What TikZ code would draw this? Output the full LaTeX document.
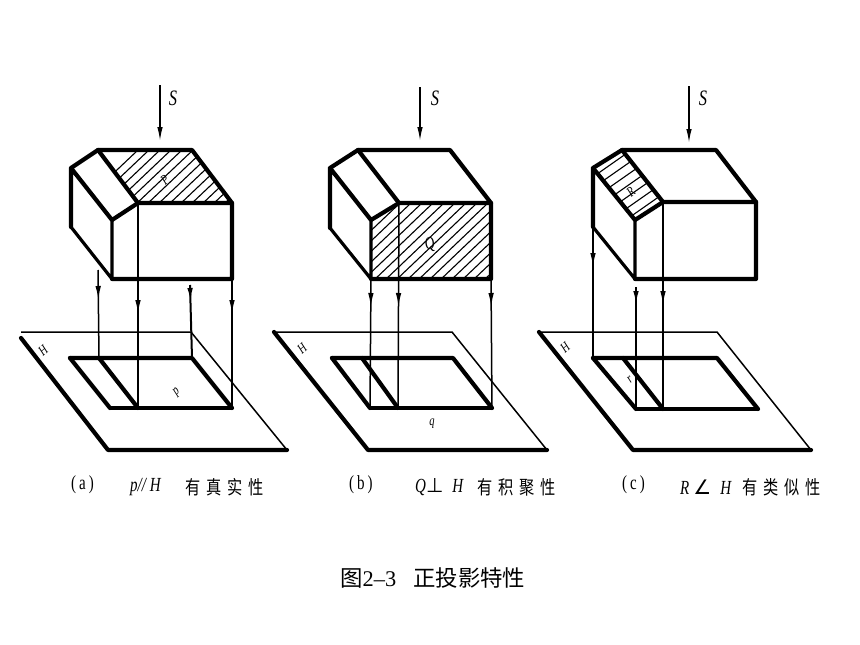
\documentclass[tikz,border=0pt]{standalone}
\usepackage{fontspec}
\setmainfont{Liberation Serif}
\newfontfamily\cjk{Noto Sans CJK SC}
\newfontfamily\cjktall[FakeStretch=0.8]{Noto Sans CJK SC}
\newfontfamily\tall[FakeStretch=0.75]{Liberation Serif}
\newfontfamily\symb{DejaVu Sans}
\usetikzlibrary{arrows.meta,decorations.markings}
\tikzset{ %
  ,>={Latex[length=14pt,width=5.5pt]}
  ,heavy/.style={line width=4.2pt, line join=round, line cap=round}
  ,medium/.style={line width=3.2pt, line join=round, line cap=round}
  ,thin line/.style={line width=1.5pt}
  ,hatch/.style={line width=1.1pt}
  ,proj/.style={line width=1.5pt, postaction={decorate}, decoration={markings, mark=at position #1 with {\arrow{>}}}}
  ,tag/.style={inner sep=0, font=\tall\itshape\fontsize{14}{14}\selectfont, rotate=40}
  ,letter/.style={inner sep=0, font=\tall\itshape\fontsize{22}{22}\selectfont}
  ,caption/.style={inner sep=0, anchor=west, font=\tall\fontsize{20}{20}\selectfont}
  ,law/.style={caption, font=\tall\itshape\fontsize{20}{20}\selectfont}
  ,cjktxt/.style={caption, font=\cjktall\fontsize{19}{19}\selectfont}
}
\begin{document}
\begin{tikzpicture}[x=1pt, y=-1pt]
    \useasboundingbox (0,0) rectangle (860,645);
    % block and plane of (a)
    \coordinate (a-back) at (98,150);
    \coordinate (a-top) at (192,150);
    \coordinate (a-right) at (232,203);
    \coordinate (a-mid) at (138,203);
    \coordinate (a-left) at (71,168);
    \coordinate (a-low) at (71,227);
    \coordinate (a-foot) at (112,279);
    \coordinate (a-base) at (232,279);
    \coordinate (a-inner) at (112,220);
    \coordinate (a-s1) at (160,85);
    \coordinate (a-s2) at (160,141);
    \coordinate (a-tl) at (21,332);
    \coordinate (a-tl2) at (21,338);
    \coordinate (a-tr) at (191,332);
    \coordinate (a-br) at (287,450);
    \coordinate (a-bl) at (108,450);
    \coordinate (a-i1) at (70,358);
    \coordinate (a-i2) at (192,358);
    \coordinate (a-i3) at (232,408);
    \coordinate (a-i4) at (110,408);
    \coordinate (a-j1) at (99,358);
    \coordinate (a-j2) at (138,408);
    % block and plane of (b)
    \coordinate (b-back) at (358,150);
    \coordinate (b-top) at (450,150);
    \coordinate (b-right) at (491,203);
    \coordinate (b-mid) at (399,203);
    \coordinate (b-left) at (330,168);
    \coordinate (b-low) at (330,228);
    \coordinate (b-foot) at (371,279);
    \coordinate (b-base) at (491,279);
    \coordinate (b-inner) at (371,220);
    \coordinate (b-s1) at (420,87);
    \coordinate (b-s2) at (420,141);
    \coordinate (b-tl) at (274,332);
    \coordinate (b-tl2) at (274,332);
    \coordinate (b-tr) at (452,332);
    \coordinate (b-br) at (547,450);
    \coordinate (b-bl) at (368,450);
    \coordinate (b-i1) at (332,358);
    \coordinate (b-i2) at (453,358);
    \coordinate (b-i3) at (492,408);
    \coordinate (b-i4) at (370,408);
    \coordinate (b-j1) at (362,358);
    \coordinate (b-j2) at (398,408);
    % block and plane of (c)
    \coordinate (c-back) at (622,150);
    \coordinate (c-top) at (716,150);
    \coordinate (c-right) at (756,202);
    \coordinate (c-mid) at (663,202);
    \coordinate (c-left) at (593,168);
    \coordinate (c-low) at (593,227);
    \coordinate (c-foot) at (635,279);
    \coordinate (c-base) at (756,279);
    \coordinate (c-inner) at (635,220);
    \coordinate (c-s1) at (689,86);
    \coordinate (c-s2) at (689,143);
    \coordinate (c-tl) at (539,332);
    \coordinate (c-tl2) at (539,332);
    \coordinate (c-tr) at (717,332);
    \coordinate (c-br) at (811,450);
    \coordinate (c-bl) at (633,450);
    \coordinate (c-i1) at (593,358);
    \coordinate (c-i2) at (717,358);
    \coordinate (c-i3) at (758,409);
    \coordinate (c-i4) at (636,409);
    \coordinate (c-j1) at (623,358);
    \coordinate (c-j2) at (663,409);
    % hatching
    \begin{scope}
      \clip (a-back) -- (a-top) -- (a-right) -- (a-mid) -- cycle;
      \foreach \i in {80,91,...,240} \draw[hatch] (\i,205) -- ++(58,-55);
    \end{scope}
    \begin{scope}
      \clip (b-inner) -- (b-mid) -- (b-right) -- (b-base) -- (b-foot) -- cycle;
      \foreach \i in {285,296,...,495} \draw[hatch] (\i,281) -- ++(82,-78);
    \end{scope}
    \begin{scope}
      \clip (c-back) -- (c-mid) -- (c-inner) -- (c-left) -- cycle;
      \foreach \i in {168,179,...,280} \draw[hatch] (590,\i) -- ++(80,-56);
    \end{scope}
    % parts drawn alike in all panels
    \foreach \p in {a,b,c} {
      \draw[heavy] (\p-left) -- (\p-back) -- (\p-top) -- (\p-right) -- (\p-base) -- (\p-foot);
      \draw[heavy] (\p-low) -- (\p-left) -- (\p-inner) -- (\p-mid) -- (\p-right);
      \draw[heavy] (\p-back) -- (\p-mid);
      \draw[medium] (\p-low) -- (\p-foot) -- (\p-inner);
      \draw[thin line, ->] (\p-s1) -- (\p-s2);
      \draw[thin line] (\p-tl) -- (\p-tr) -- (\p-br);
      \draw[heavy] (\p-br) -- (\p-bl) -- (\p-tl2);
      \draw[heavy] (\p-i1) -- (\p-i2) -- (\p-i3);
      \draw[heavy] (\p-i4) -- (\p-i1);
      \draw[heavy] (\p-j1) -- (\p-j2);
      \draw[medium] (\p-i4) -- (\p-i3);
    }
    % projection lines
    \coordinate (a-p1) at (98,270);
    \coordinate (a-p3) at (190,285);
    \coordinate (c-p2) at (636,287);
    \draw[proj=30pt] (a-p1) -- (a-j1);
    \draw[proj=111pt] (a-mid) -- (a-j2);
    \draw[proj=17pt, line width=2pt] (a-p3) -- (a-i2);
    \draw[proj=35pt] (a-base) -- (a-i3);
    \draw[proj=28pt] (b-foot) -- (b-i4);
    \draw[proj=104pt] (b-mid) -- (b-j2);
    \draw[proj=28pt] (b-base) -- (b-i3);
    \draw[proj=40pt] (c-low) -- (c-i1);
    \draw[proj=18pt, line width=2pt] (c-p2) -- (c-i4);
    \draw[proj=103pt] (c-mid) -- (c-j2);
    % labels
    \node[letter] (a-S) at (173,98) {S};
    \node[letter] (b-S) at (435,98) {S};
    \node[letter] (c-S) at (703,98) {S};
    \node[tag] (a-P) at (165,180) {P};
    \node[tag, rotate=-25, font=\tall\itshape\fontsize{18}{18}\selectfont] (b-Q) at (430,245) {Q};
    \node[tag] (c-R) at (631,192) {R};
    \node[tag] (a-H) at (43,351) {H};
    \node[tag] (b-H) at (302,349) {H};
    \node[tag] (c-H) at (565,348) {H};
    \node[tag] (a-p) at (177,392) {p};
    \node[tag, rotate=-40] (b-q) at (432,424) {q};
    \node[tag] (c-r) at (630,380) {r};
    % captions
    \node[caption] (a-cap) at (71,485) {(\hspace{3pt}a\hspace{3pt})};
    \node[law] (a-law) at (130,487) {p// H};
    \node[cjktxt] (a-txt) at (185,487) {有\hspace{6pt}真\hspace{6pt}实\hspace{6pt}性};
    \node[caption] (b-cap) at (349,485) {(\hspace{3pt}b\hspace{3pt})};
    \node[law] (b-law) at (415,487) {Q{\upshape\symb\fontsize{20}{20}\selectfont ⊥}\hspace{9pt}H};
    \node[cjktxt] (b-txt) at (477,487) {有\hspace{6pt}积\hspace{6pt}聚\hspace{6pt}性};
    \node[caption] (c-cap) at (622,485) {(\hspace{3pt}c\hspace{3pt})};
    \node[law] (c-law) at (680,487) {R\hspace{4pt}{\upshape\symb\fontsize{20}{20}\selectfont ∠}\hspace{9pt}H};
    \node[cjktxt] (c-txt) at (742,487) {有\hspace{6pt}类\hspace{6pt}似\hspace{6pt}性};
    \node[caption, font=\fontsize{22.4}{22.4}\selectfont] (title) at (340,578) {{\cjk 图}2–3\hspace{17pt}{\cjk 正投影特性}};
\end{tikzpicture}
\end{document}
